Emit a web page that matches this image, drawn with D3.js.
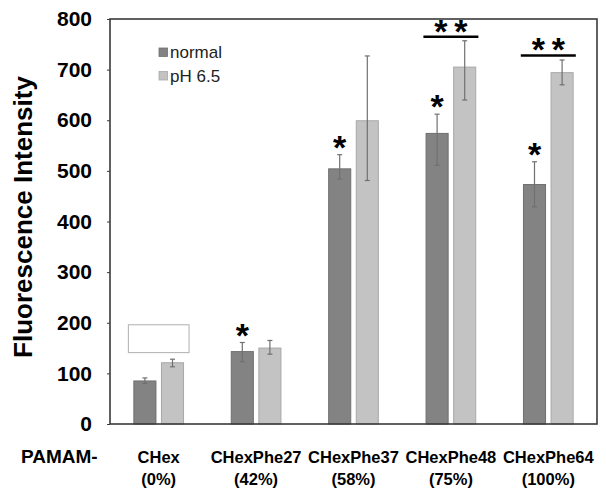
<!DOCTYPE html>
<html lang="en">
<head>
    <meta charset="UTF-8">
    <title>Fluorescence Intensity</title>
    <script src="https://d3js.org/d3.v7.min.js"></script>
    <style>
        body { margin: 0; background: #fff; }
        text { font-family: "Liberation Sans", Arial, sans-serif; }
    </style>
</head>
<body>
    <div id="graph"></div>
    <script>
        // data
        const groups = ["CHex", "CHexPhe27", "CHexPhe37", "CHexPhe48", "CHexPhe64"];
        const groupPct = ["(0%)", "(42%)", "(58%)", "(75%)", "(100%)"];
        const series = ["normal", "pH 6.5"];
        const normalVals = [85, 143, 504, 574, 473];
        const normalErrUp = [6, 18, 28, 38, 45];
        const normalErrDown = [5, 20, 20, 63, 44];
        const phVals = [121, 150, 599, 705, 694];
        const phErrUp = [7, 15, 128, 52, 25];
        const phErrDown = [8, 12, 118, 65, 24];
        const yTicks = [0, 100, 200, 300, 400, 500, 600, 700, 800];
        // single star over normal bar, double stars over groups
        const singleStar = [false, true, true, true, true];
        const doubleStar = [{ group: "CHexPhe48", level: 765 }, { group: "CHexPhe64", level: 728 }];

        const colors = { "normal": "#838383", "pH 6.5": "#c3c3c3" };
        const strokes = { "normal": "#6f6f6f", "pH 6.5": "#a8a8a8" };

        const W = 606, H = 491;
        const margin = { top: 19, right: 9, bottom: 67, left: 110 };
        const width = W - margin.left - margin.right,
            height = H - margin.top - margin.bottom;

        const svg = d3.select("#graph").append("svg")
            .attr("width", W).attr("height", H);
        const g = svg.append("g")
            .attr("transform", `translate(${margin.left},${margin.top})`);

        const x0 = d3.scaleBand().domain(groups).range([0, width])
            .paddingInner(0.49).paddingOuter(0.245);
        const x1 = d3.scaleBand().domain(series).range([0, x0.bandwidth()])
            .paddingInner(0.2).paddingOuter(0);
        const y = d3.scaleLinear().domain([0, 800]).range([height, 0]);

        const rows = [];
        groups.forEach((grp, i) => {
            rows.push({ grp, s: "normal", v: normalVals[i], up: normalErrUp[i], down: normalErrDown[i] });
            rows.push({ grp, s: "pH 6.5", v: phVals[i], up: phErrUp[i], down: phErrDown[i] });
        });

        const starSize = 34;
        const starMid = starSize * 0.45; // baseline offset below the asterisk centre

        // leftover empty box near CHex
        g.append("rect")
            .attr("x", x0("CHex") - 5.5)
            .attr("y", y(196))
            .attr("width", x0.bandwidth() + 11)
            .attr("height", y(141) - y(196))
            .attr("fill", "#fff").attr("stroke", "#b0b0b0").attr("stroke-width", 1);

        // bars
        g.selectAll(".bar").data(rows).join("rect")
            .attr("class", "bar")
            .attr("x", d => x0(d.grp) + x1(d.s))
            .attr("y", d => y(d.v))
            .attr("width", x1.bandwidth())
            .attr("height", d => y(0) - y(d.v))
            .attr("fill", d => colors[d.s])
            .attr("stroke", d => strokes[d.s])
            .attr("stroke-width", 1);

        // error bars
        const eb = g.selectAll(".err").data(rows).join("g").attr("class", "err")
            .attr("stroke", "#707070").attr("stroke-width", 1.2);
        const cx = d => x0(d.grp) + x1(d.s) + x1.bandwidth() / 2;
        eb.append("line")
            .attr("x1", cx).attr("x2", cx)
            .attr("y1", d => y(d.v + d.up)).attr("y2", d => y(d.v - d.down));
        eb.append("line")
            .attr("x1", d => cx(d) - 2.5).attr("x2", d => cx(d) + 2.5)
            .attr("y1", d => y(d.v + d.up)).attr("y2", d => y(d.v + d.up));
        eb.append("line")
            .attr("x1", d => cx(d) - 2.5).attr("x2", d => cx(d) + 2.5)
            .attr("y1", d => y(d.v - d.down)).attr("y2", d => y(d.v - d.down));

        // single stars
        g.selectAll(".star").data(rows.filter(d => d.s === "normal" && singleStar[groups.indexOf(d.grp)]))
            .join("text").attr("class", "star")
            .attr("x", cx)
            .attr("y", d => y(d.v + d.up) - 11 + starMid)
            .attr("text-anchor", "middle")
            .attr("font-size", starSize).attr("font-weight", "bold")
            .text("*");

        // double stars with line
        doubleStar.forEach(ds => {
            const c = x0(ds.group) + x0.bandwidth() / 2;
            g.append("line")
                .attr("x1", c - 27.5).attr("x2", c + 27.5)
                .attr("y1", y(ds.level)).attr("y2", y(ds.level))
                .attr("stroke", "#000").attr("stroke-width", 2.5);
            [-10, 10].forEach(dx => {
                g.append("text")
                    .attr("x", c + dx)
                    .attr("y", y(ds.level) - 9.5 + starMid)
                    .attr("text-anchor", "middle")
                    .attr("font-size", starSize).attr("font-weight", "bold")
                    .text("*");
            });
        });

        // frame
        g.append("rect")
            .attr("x", 0).attr("y", 0).attr("width", width).attr("height", height)
            .attr("fill", "none").attr("stroke", "#3a3a3a").attr("stroke-width", 1.6);

        // y axis
        const yAxis = g.append("g")
            .call(d3.axisLeft(y).tickValues(yTicks).tickSize(3).tickPadding(15));
        yAxis.select(".domain").remove();
        yAxis.selectAll("line").attr("stroke", "#3a3a3a");
        yAxis.selectAll("text")
            .attr("font-size", 21).attr("font-weight", "bold").attr("fill", "#000")
            .style("font-family", "'Liberation Sans', Arial, sans-serif");

        // y title
        svg.append("text")
            .attr("transform", `translate(32,217) rotate(-90)`)
            .attr("text-anchor", "middle")
            .attr("font-size", 26).attr("font-weight", "bold")
            .text("Fluorescence Intensity");

        // x labels
        const xl = g.selectAll(".xlab").data(groups).join("text").attr("class", "xlab")
            .attr("text-anchor", "middle")
            .attr("font-size", 16.5).attr("font-weight", "bold");
        xl.append("tspan")
            .attr("x", d => x0(d) + x0.bandwidth() / 2)
            .attr("y", height + 39)
            .text(d => d);
        xl.append("tspan")
            .attr("x", d => x0(d) + x0.bandwidth() / 2)
            .attr("y", height + 61)
            .text((d, i) => groupPct[i]);

        svg.append("text")
            .attr("x", 21).attr("y", margin.top + height + 39)
            .attr("font-size", 19).attr("font-weight", "bold")
            .text("PAMAM-");

        // legend
        const leg = svg.append("g").attr("transform", "translate(159,48)");
        series.forEach((s, i) => {
            leg.append("rect")
                .attr("x", 0).attr("y", i * 23.5)
                .attr("width", 8.5).attr("height", 8.5)
                .attr("fill", colors[s]).attr("stroke", strokes[s]).attr("stroke-width", 0.8);
            leg.append("text")
                .attr("x", 11).attr("y", i * 23.5 + 10)
                .attr("font-size", 17).attr("fill", "#222")
                .text(s);
        });
    </script>
</body>
</html>
